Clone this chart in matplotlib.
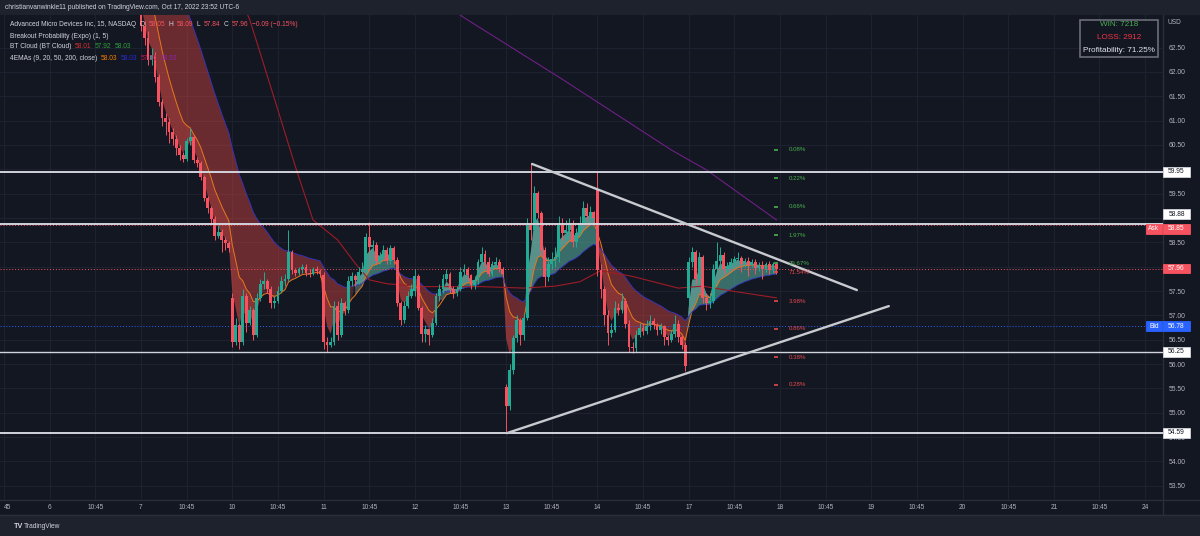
import numpy as np
import matplotlib
matplotlib.use('Agg')
import matplotlib.pyplot as plt
from matplotlib.patches import Rectangle
from matplotlib.lines import Line2D
from matplotlib.offsetbox import TextArea, HPacker, AnnotationBbox
from matplotlib.transforms import blended_transform_factory

plt.rcParams['font.family'] = ['Liberation Sans', 'DejaVu Sans']

# AMD, 15 min bars, regular session (26 bars per day)
n_day = 26
day_open = [63.60, 57.35, 57.83, 57.50, 55.53, 59.60, 57.35]

close_d7 = [62.95, 62.70, 62.25, 62.35, 61.90, 61.38, 61.06, 60.98, 60.77, 60.63, 60.44, 60.30, 60.22,
            60.58, 60.66, 60.20, 60.14, 59.84, 59.41, 59.20, 58.98, 58.63, 58.72, 58.55, 58.48, 58.38]
high_d7 = [63.80, 63.05, 62.85, 62.50, 62.40, 61.95, 61.45, 61.15, 61.05, 60.85, 60.70, 60.50, 60.35,
           60.65, 60.85, 60.70, 60.25, 60.18, 59.88, 59.45, 59.25, 59.05, 58.85, 58.78, 58.60, 58.52]
low_d7 = [62.85, 62.55, 62.15, 62.15, 61.80, 61.30, 60.90, 60.70, 60.55, 60.50, 60.30, 60.20, 60.15,
          60.18, 60.50, 60.12, 60.05, 59.78, 59.35, 59.10, 58.90, 58.55, 58.58, 58.30, 58.35, 58.30]

close_d10 = [56.46, 56.80, 56.45, 57.40, 56.85, 57.10, 56.60, 57.35, 57.65, 57.70, 57.55, 57.25, 57.30,
             57.50, 57.70, 57.75, 58.30, 57.93, 57.88, 57.95, 58.00, 57.88, 57.85, 57.95, 57.92, 57.85]
high_d10 = [57.45, 56.95, 56.85, 57.55, 57.45, 57.20, 57.15, 57.45, 57.75, 57.90, 57.75, 57.60, 57.40,
            57.60, 57.80, 57.85, 58.75, 58.35, 57.98, 58.00, 58.05, 58.05, 57.95, 58.00, 58.02, 57.95]
low_d10 = [56.35, 56.40, 56.30, 56.40, 56.65, 56.80, 56.50, 56.55, 57.30, 57.55, 57.45, 57.15, 57.15,
           57.25, 57.45, 57.60, 57.70, 57.85, 57.80, 57.82, 57.88, 57.80, 57.78, 57.82, 57.85, 57.78]

close_d11 = [56.46, 56.40, 56.45, 57.20, 56.60, 57.25, 57.10, 57.70, 57.80, 57.72, 57.90, 57.95, 58.60,
             58.40, 58.45, 58.12, 58.20, 58.35, 58.12, 58.38, 58.14, 57.25, 56.90, 57.20, 57.40, 57.55]
high_d11 = [57.90, 56.55, 56.55, 57.30, 57.30, 57.35, 57.30, 57.80, 57.90, 57.85, 58.00, 58.10, 58.70,
            58.92, 58.55, 58.50, 58.30, 58.45, 58.40, 58.45, 58.42, 58.20, 57.30, 57.30, 57.50, 57.65]
low_d11 = [56.30, 56.25, 56.35, 56.40, 56.50, 56.55, 57.00, 57.05, 57.60, 57.60, 57.65, 57.80, 57.90,
           58.30, 58.30, 58.05, 58.05, 58.15, 58.05, 58.05, 58.05, 57.20, 56.80, 56.85, 57.15, 57.35]

close_d12 = [57.80, 57.15, 56.62, 56.72, 56.60, 56.85, 57.40, 57.55, 57.75, 57.85, 57.55, 57.45, 57.55,
             57.90, 57.95, 57.82, 57.62, 57.72, 58.10, 58.27, 58.10, 57.85, 58.05, 58.10, 57.95, 57.85]
high_d12 = [57.95, 57.85, 57.20, 56.80, 56.75, 56.95, 57.45, 57.65, 57.85, 57.95, 57.90, 57.60, 57.60,
            58.00, 58.05, 58.00, 57.85, 57.80, 58.15, 58.40, 58.35, 58.20, 58.12, 58.20, 58.15, 58.00]
low_d12 = [57.40, 57.10, 56.45, 56.45, 56.40, 56.55, 56.80, 57.30, 57.45, 57.70, 57.45, 57.35, 57.40,
           57.50, 57.80, 57.70, 57.55, 57.55, 57.65, 58.05, 58.00, 57.80, 57.80, 57.98, 57.90, 57.80]

close_d13 = [55.13, 55.88, 56.53, 56.90, 56.60, 56.95, 58.89, 58.75, 59.51, 59.10, 58.35, 57.79, 58.05,
             58.15, 58.20, 58.90, 58.69, 58.75, 58.85, 58.50, 58.70, 58.90, 59.20, 59.05, 59.12, 59.00]
high_d13 = [55.60, 56.00, 56.60, 57.00, 56.95, 57.05, 59.00, 60.12, 59.65, 59.55, 59.15, 58.40, 58.20,
            58.30, 58.40, 59.05, 59.00, 58.95, 59.00, 58.95, 58.80, 59.05, 59.35, 59.30, 59.25, 59.15]
low_d13 = [54.58, 55.05, 55.80, 56.45, 56.40, 56.50, 56.90, 58.55, 58.70, 59.00, 58.25, 57.60, 57.70,
           57.95, 58.00, 58.10, 58.55, 58.55, 58.65, 58.40, 58.40, 58.65, 58.85, 58.95, 58.95, 58.85]

close_d14 = [57.93, 57.55, 57.00, 56.63, 56.70, 57.15, 57.11, 57.30, 56.83, 56.36, 56.32, 56.60, 56.75,
             56.68, 56.78, 56.88, 56.80, 56.70, 56.78, 56.56, 56.50, 56.62, 56.83, 56.55, 56.40, 55.95]
high_d14 = [59.95, 58.05, 57.60, 57.10, 56.85, 57.30, 57.25, 57.45, 57.35, 56.90, 56.45, 56.70, 56.85,
            56.85, 56.90, 57.00, 56.95, 56.85, 56.85, 56.80, 56.60, 56.70, 57.00, 56.90, 56.60, 56.45]
low_d14 = [57.80, 57.35, 56.80, 56.40, 56.55, 56.65, 57.00, 57.05, 56.75, 56.25, 56.22, 56.25, 56.55,
           56.60, 56.62, 56.70, 56.72, 56.60, 56.62, 56.40, 56.40, 56.45, 56.55, 56.45, 56.30, 55.85]

close_d17 = [58.10, 58.30, 57.75, 58.20, 57.35, 57.25, 57.30, 57.95, 58.12, 58.25, 57.95, 58.02, 58.10,
             58.15, 58.18, 58.05, 58.12, 58.03, 58.10, 57.98, 58.04, 57.96, 58.05, 57.94, 58.05, 57.96]
high_d17 = [58.20, 58.40, 58.35, 58.30, 58.25, 57.45, 57.45, 58.05, 58.50, 58.40, 58.30, 58.10, 58.18,
            58.22, 58.30, 58.22, 58.18, 58.20, 58.15, 58.15, 58.10, 58.12, 58.10, 58.12, 58.10, 58.09]
low_d17 = [57.20, 58.00, 57.65, 57.65, 57.25, 57.10, 57.15, 57.25, 57.90, 57.95, 57.85, 57.90, 57.98,
           58.02, 58.05, 57.90, 58.00, 57.80, 58.00, 57.85, 57.92, 57.75, 57.90, 57.85, 57.88, 57.84]

# slow EMAs (bar index, value)
ema50_idx = [29, 31, 38, 44, 49, 56, 61, 65, 70, 80, 97, 109, 118, 125, 131, 140, 153, 160, 170, 181]
ema50_val = [63.40, 63.07, 61.45, 60.05, 58.96, 58.55, 58.07, 57.73, 57.65, 57.59, 57.59, 57.56, 57.60,
             57.69, 57.92, 57.80, 57.56, 57.60, 57.48, 57.36]
ema200_idx = [86, 93, 120, 151, 161, 181]
ema200_val = [63.40, 63.07, 61.85, 60.40, 59.99, 58.96]

# drawings
h_levels = [59.95, 58.88, 56.25, 54.59]
tri_up_x, tri_up_y = [111.4, 203.9], [60.11, 57.52]
tri_lo_x, tri_lo_y = [104.2, 213.0], [54.58, 57.19]

# breakout probability levels
bp_levels = [60.40, 59.82, 59.23, 58.65, 58.07, 57.89, 57.29, 56.72, 56.14, 55.57]
bp_labels = ['0.08%', '0.22%', '0.66%', '1.97%', '29.67%', '71.54%', '3.98%', '0.86%', '0.38%', '0.28%']
bp_up = [True, True, True, True, True, False, False, False, False, False]

axis_days = ['6', '7', '10', '11', '12', '13', '14', '17', '18', '19', '20', '21', '24']

closes = np.array(close_d7 + close_d10 + close_d11 + close_d12 + close_d13 + close_d14 + close_d17)
highs = np.array(high_d7 + high_d10 + high_d11 + high_d12 + high_d13 + high_d14 + high_d17)
lows = np.array(low_d7 + low_d10 + low_d11 + low_d12 + low_d13 + low_d14 + low_d17)
opens = np.r_[np.nan, closes[:-1]]
for k, o in enumerate(day_open):
    opens[k * n_day] = o
highs = np.maximum(highs, np.maximum(opens, closes))
lows = np.minimum(lows, np.minimum(opens, closes))
x = np.arange(len(closes))


def ema(values, n, seed):
    a = 2.0 / (n + 1)
    e = seed
    out = []
    for v in values:
        e = e + a * (v - e)
        out.append(e)
    return np.array(out)


ema3 = ema(closes, 3, 63.8)
ema9 = ema(closes, 9, 64.8)
slow = ema(closes, 26, 67.6)

BG = '#131722'
PANEL = '#1e222d'
GRID = '#1e2230'
TXT = '#b2b5be'
UP = '#22ab94'
DOWN = '#f7525f'

W, H = 1200, 536
fig = plt.figure(figsize=(W / 100, H / 100), dpi=100, facecolor=BG)


def fx(px):
    return px / W


def fy(py):
    return 1 - py / H


ax = fig.add_axes([0, fy(500), fx(1163), (500 - 15) / H])
ax.set_facecolor(BG)
ax.set_xlim(-40.16, 291.1)
ax.set_ylim(53.207, 63.17)

# BT cloud
bull = ema3 >= slow
ax.fill_between(x, ema3, slow, where=bull, interpolate=True, color='#58b5a6', alpha=0.55, lw=0, zorder=1)
ax.fill_between(x, ema3, slow, where=~bull, interpolate=True, color='#c0403c', alpha=0.5, lw=0, zorder=1)
ax.fill_between(x, ema3, ema9, where=bull, interpolate=True, color='#a3e2d6', alpha=0.3, lw=0, zorder=1)
ax.fill_between(x, ema3, ema9, where=~bull, interpolate=True, color='#e0504a', alpha=0.25, lw=0, zorder=1)

ax.plot(x, ema9, color='#e8791c', lw=0.7, zorder=2)
ax.plot(x, slow, color='#3434c4', lw=0.6, zorder=2)
ax.plot(ema50_idx, ema50_val, color='#9e1c26', lw=0.8, zorder=2)
ax.plot(ema200_idx, ema200_val, color='#6e1f85', lw=0.8, zorder=2)

# candles
up = closes >= opens
col = np.where(up, UP, DOWN)
ax.vlines(x, lows, highs, colors=col, lw=0.7, zorder=4)
ax.bar(x, np.maximum(np.abs(closes - opens), 0.015), bottom=np.minimum(opens, closes),
       width=0.8, color=col, lw=0, zorder=5)

# horizontal drawings and price lines
for lv in h_levels:
    ax.axhline(lv, color='#d1d4dc', lw=1.4 if lv != 56.25 else 1.0, zorder=6)
ax.axhline(57.96, color=DOWN, lw=0.7, ls=(0, (1, 2)), zorder=3)
ax.axhline(58.85, color=DOWN, lw=0.7, ls=(0, (1, 2)), zorder=3)
ax.axhline(56.78, color='#2962ff', lw=0.7, ls=(0, (1, 2)), zorder=3)

ax.plot(tri_up_x, tri_up_y, color='#c8cad0', lw=1.7, solid_capstyle='round', zorder=7)
ax.plot(tri_lo_x, tri_lo_y, color='#c8cad0', lw=1.7, solid_capstyle='round', zorder=7)

# breakout probability
for lv, lab, u in zip(bp_levels, bp_labels, bp_up):
    c = '#4caf50' if u else '#e5484d'
    ax.hlines(lv, x[-1] - 0.6, x[-1] + 0.5, colors=c, lw=1.2, zorder=8)
    ax.text(x[-1] + 3.4, lv, lab, color=c, fontsize=4.4, va='center', ha='left', zorder=8)

# axes styling
ticks, labels = [], []
for k, d in enumerate(axis_days):
    pos = n_day * (k - 1)
    ticks += [pos - 13, pos]
    labels += ['10:45', d]
labels[0] = '45'
ax.set_xticks(ticks)
ax.set_xticklabels(labels)
ax.get_xticklabels()[0].set_ha('left')
ax.set_yticks(np.arange(53.5, 63.0, 0.5))
ax.set_yticklabels([f'{v:.2f}' for v in np.arange(53.5, 63.0, 0.5)])
ax.yaxis.tick_right()
ax.tick_params(axis='y', length=0, pad=3.8, labelsize=4.9, labelcolor=TXT)
ax.tick_params(axis='x', length=0, pad=3.2, labelsize=4.7, labelcolor=TXT)
ax.grid(True, color=GRID, lw=0.8, zorder=0)
ax.set_axisbelow(True)
for s in ['left', 'top']:
    ax.spines[s].set_visible(False)
for s in ['right', 'bottom']:
    ax.spines[s].set_color('#2a2e39')
    ax.spines[s].set_linewidth(1)

# header / footer bands
fig.add_artist(Rectangle((0, fy(14)), 1, 14 / H, transform=fig.transFigure, color=PANEL, zorder=0))
fig.add_artist(Rectangle((0, 0), 1, 21 / H, transform=fig.transFigure, color=PANEL, zorder=0))
fig.add_artist(Line2D([0, 1], [fy(515), fy(515)], transform=fig.transFigure, color='#2a2e39', lw=1))
fig.add_artist(Line2D([fx(1163), 1], [fy(500), fy(500)], transform=fig.transFigure, color='#2a2e39', lw=1))
fig.add_artist(Line2D([fx(1163), fx(1163)], [fy(515), fy(500)], transform=fig.transFigure, color='#2a2e39', lw=1))
fig.text(fx(5), fy(7.5), 'christianvanwinkle11 published on TradingView.com, Oct 17, 2022 23:52 UTC-6',
         color='#d1d4dc', fontsize=4.8, va='center')
fig.text(fx(14), fy(526), 'TV', color='#d1d4dc', fontsize=5.2, fontweight='bold', va='center')
fig.text(fx(24), fy(526), 'TradingView', color='#d1d4dc', fontsize=4.8, va='center')
fig.text(fx(1168), fy(23), 'USD', color=TXT, fontsize=4.8, va='center')

# legend lines
red_l = '#f7525f'
legend_rows = [
    (24, [('Advanced Micro Devices Inc, 15, NASDAQ', '#d1d4dc'), ('O', '#d1d4dc'), ('58.05', red_l),
          ('H', '#d1d4dc'), ('58.09', red_l), ('L', '#d1d4dc'), ('57.84', red_l),
          ('C', '#d1d4dc'), ('57.96', red_l), ('\u22120.09 (\u22120.15%)', red_l)]),
    (36, [('Breakout Probability (Expo) (1, 5)', '#d1d4dc')]),
    (47, [('BT Cloud (BT Cloud)', '#d1d4dc'), ('58.01', '#d32f2f'), ('57.92', '#2e9d3a'), ('58.03', '#2e9d3a')]),
    (58, [('4EMAs (9, 20, 50, 200, close)', '#d1d4dc'), ('58.03', '#f57c00'), ('58.03', '#2a2ad8'),
          ('57.36', '#c2185b'), ('58.93', '#8e24aa')]),
]
for ypx, parts in legend_rows:
    boxes = [TextArea(s, textprops=dict(color=c, fontsize=4.8)) for s, c in parts]
    pack = HPacker(children=boxes, align='baseline', pad=0, sep=2.5)
    ab = AnnotationBbox(pack, (10, H - ypx), xycoords='figure pixels', box_alignment=(0, 0.5),
                        frameon=False, pad=0, zorder=20)
    ax.add_artist(ab)

# win / loss box
fig.add_artist(Rectangle((fx(1080), fy(57)), 78 / W, 37 / H, transform=fig.transFigure,
                         facecolor=BG, edgecolor='#6b6e78', lw=1.2, zorder=5))
fig.text(fx(1119), fy(25), 'WIN: 7218', color='#4caf50', fontsize=5.9, ha='center', va='center', zorder=6)
fig.text(fx(1119), fy(37.5), 'LOSS: 2912', color='#f23645', fontsize=5.9, ha='center', va='center', zorder=6)
fig.text(fx(1119), fy(50), 'Profitability: 71.25%', color='#e0e3eb', fontsize=5.9, ha='center', va='center',
         zorder=6)

# price tags on the right scale
tag_tf = blended_transform_factory(fig.transFigure, ax.transData)


def tag(price, text, fc, tc, x0=1163, w=27, shift=0.0):
    y = price + shift
    fig.add_artist(Rectangle((fx(x0), y - 0.1), w / W, 0.2, transform=tag_tf, facecolor=fc,
                             edgecolor='#d1d4dc' if fc == '#ffffff' else fc, lw=0.6, zorder=10))
    fig.text(fx(x0 + w / 2), y, text, transform=tag_tf, color=tc, fontsize=4.8, ha='center', va='center',
             zorder=11)


tag(59.95, '59.95', '#ffffff', '#131722')
tag(58.88, '58.88', '#ffffff', '#131722', shift=0.2)
tag(58.85, '58.85', DOWN, '#ffffff', shift=-0.07)
tag(58.85, 'Ask', DOWN, '#ffffff', x0=1146, w=16, shift=-0.07)
tag(57.96, '57.96', DOWN, '#ffffff')
tag(56.78, '56.78', '#2962ff', '#ffffff')
tag(56.78, 'Bid', '#2962ff', '#ffffff', x0=1146, w=16)
tag(56.25, '56.25', '#ffffff', '#131722')
tag(54.59, '54.59', '#ffffff', '#131722')

fig.savefig('out.png', dpi=100, facecolor=BG)
